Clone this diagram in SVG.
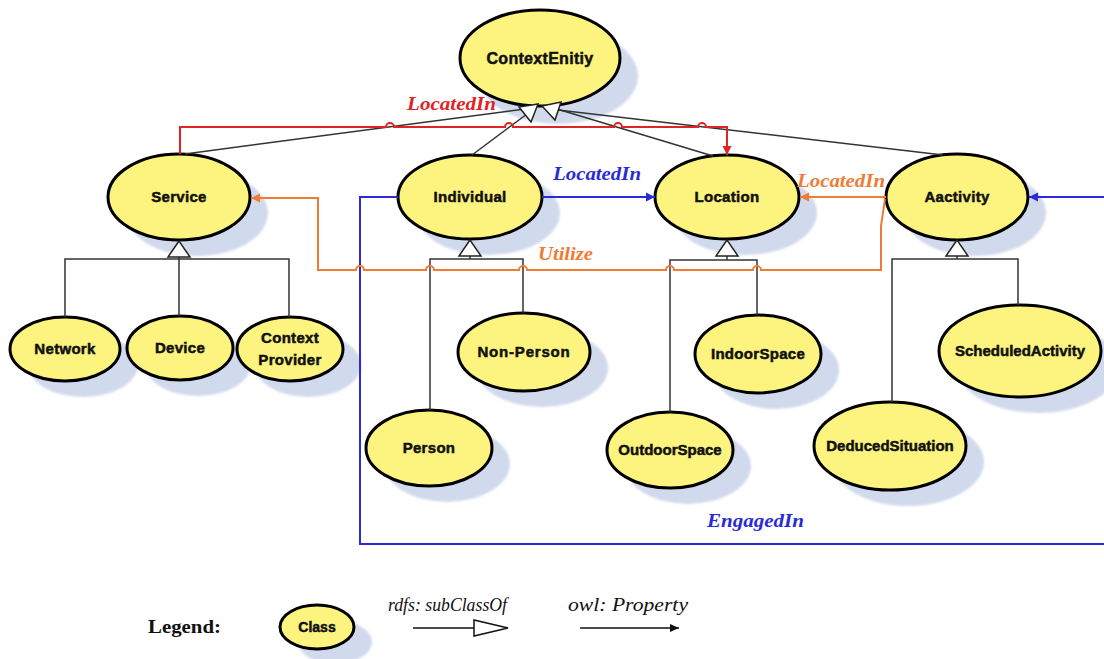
<svg xmlns="http://www.w3.org/2000/svg" width="1104" height="659" viewBox="0 0 1104 659">
  <style>
    .shadow { fill: #d1daed; filter: url(#soft); }
    .cls { fill: #fcf47e; stroke: #000; stroke-width: 3; }
    .lbl { font-family: "Liberation Sans", Arial, sans-serif; font-weight: bold; font-size: 15px; fill: #111; stroke: #111; stroke-width: 0.5; text-anchor: middle; letter-spacing: 0.3px; }
    .sub { fill: none; stroke: #333; stroke-width: 1.5; }
    .tri { fill: #fff; stroke: #222; stroke-width: 1.5; stroke-linejoin: miter; }
    .prop { font-family: "Liberation Serif", "Times New Roman", serif; font-style: italic; font-weight: bold; font-size: 18px; }
    .red { stroke: #e02424; fill: none; stroke-width: 2; }
    .blue { stroke: #2a2ad6; fill: none; stroke-width: 2; }
    .orange { stroke: #ef7c35; fill: none; stroke-width: 2; }
    .legend { font-family: "Liberation Serif", "Times New Roman", serif; font-size: 18px; fill: #111; }
  </style>
  <defs>
    <filter id="soft" x="-10%" y="-10%" width="120%" height="120%">
      <feGaussianBlur stdDeviation="1.2"/>
    </filter>
    <marker id="ah-red" markerUnits="userSpaceOnUse" markerWidth="10" markerHeight="10" refX="9" refY="5" orient="auto">
      <path d="M0,0.5 L9,5 L0,9.5 z" fill="#e02424"/>
    </marker>
    <marker id="ah-blue" markerUnits="userSpaceOnUse" markerWidth="10" markerHeight="10" refX="9" refY="5" orient="auto">
      <path d="M0,0.5 L9,5 L0,9.5 z" fill="#2a2ad6"/>
    </marker>
    <marker id="ah-orange" markerUnits="userSpaceOnUse" markerWidth="10" markerHeight="10" refX="9" refY="5" orient="auto">
      <path d="M0,0.5 L9,5 L0,9.5 z" fill="#ef7c35"/>
    </marker>
    <marker id="ah-black" markerUnits="userSpaceOnUse" markerWidth="10" markerHeight="10" refX="9" refY="5" orient="auto">
      <path d="M0,1 L9,5 L0,9 z" fill="#111"/>
    </marker>
  </defs>

  <rect width="1104" height="659" fill="#fff"/>

  <!-- class nodes -->
  <g id="node-contextentity">
    <ellipse class="shadow" cx="558" cy="76" rx="80" ry="48"/>
    <ellipse class="cls" cx="540" cy="58" rx="80" ry="48"/>
    <text class="lbl" x="540" y="64" style="font-size:16px">ContextEnitiy</text>
  </g>
  <g id="node-service">
    <ellipse class="shadow" cx="197" cy="213" rx="71" ry="43"/>
    <ellipse class="cls" cx="179" cy="197" rx="71" ry="43"/>
    <text class="lbl" x="179" y="202">Service</text>
  </g>
  <g id="node-individual">
    <ellipse class="shadow" cx="488" cy="213" rx="72" ry="42"/>
    <ellipse class="cls" cx="470" cy="197" rx="72" ry="42"/>
    <text class="lbl" x="470" y="202">Individual</text>
  </g>
  <g id="node-location">
    <ellipse class="shadow" cx="745" cy="213" rx="72" ry="42"/>
    <ellipse class="cls" cx="727" cy="197" rx="72" ry="42"/>
    <text class="lbl" x="727" y="202">Location</text>
  </g>
  <g id="node-activity">
    <ellipse class="shadow" cx="975" cy="213" rx="71" ry="43"/>
    <ellipse class="cls" cx="957" cy="197" rx="71" ry="43"/>
    <text class="lbl" x="957" y="202">Aactivity</text>
  </g>
  <g id="node-network">
    <ellipse class="shadow" cx="83" cy="365" rx="55" ry="32"/>
    <ellipse class="cls" cx="65" cy="349" rx="55" ry="32"/>
    <text class="lbl" x="65" y="354">Network</text>
  </g>
  <g id="node-device">
    <ellipse class="shadow" cx="198" cy="364" rx="53" ry="32"/>
    <ellipse class="cls" cx="180" cy="348" rx="53" ry="32"/>
    <text class="lbl" x="180" y="353">Device</text>
  </g>
  <g id="node-contextprovider">
    <ellipse class="shadow" cx="308" cy="365" rx="53" ry="32"/>
    <ellipse class="cls" cx="290" cy="349" rx="53" ry="32"/>
    <text class="lbl" x="290" y="343">Context</text>
    <text class="lbl" x="290" y="365">Provider</text>
  </g>
  <g id="node-nonperson">
    <ellipse class="shadow" cx="542" cy="368" rx="66" ry="39"/>
    <ellipse class="cls" cx="524" cy="352" rx="66" ry="39"/>
    <text class="lbl" x="524" y="357" style="letter-spacing:0.8px">Non-Person</text>
  </g>
  <g id="node-person">
    <ellipse class="shadow" cx="447" cy="464" rx="63" ry="38"/>
    <ellipse class="cls" cx="429" cy="448" rx="63" ry="38"/>
    <text class="lbl" x="429" y="453">Person</text>
  </g>
  <g id="node-indoorspace">
    <ellipse class="shadow" cx="776" cy="370" rx="63" ry="39"/>
    <ellipse class="cls" cx="758" cy="354" rx="63" ry="39"/>
    <text class="lbl" x="758" y="359">IndoorSpace</text>
  </g>
  <g id="node-outdoorspace">
    <ellipse class="shadow" cx="688" cy="466" rx="63" ry="38"/>
    <ellipse class="cls" cx="670" cy="450" rx="63" ry="38"/>
    <text class="lbl" x="670" y="455" style="letter-spacing:0px">OutdoorSpace</text>
  </g>
  <g id="node-deducedsituation">
    <ellipse class="shadow" cx="908" cy="462" rx="76" ry="44"/>
    <ellipse class="cls" cx="890" cy="446" rx="76" ry="44"/>
    <text class="lbl" x="890" y="451" style="letter-spacing:0px">DeducedSituation</text>
  </g>
  <g id="node-scheduledactivity">
    <ellipse class="shadow" cx="1038" cy="367" rx="81" ry="46"/>
    <ellipse class="cls" cx="1020" cy="351" rx="81" ry="46"/>
    <text class="lbl" x="1020" y="356" style="letter-spacing:0px">ScheduledActivity</text>
  </g>

  <!-- connectors -->
  <g id="connectors">
    <!-- subClassOf links to ContextEnitiy -->
    <path class="sub" d="M185,154 L525,109"/>
    <path class="sub" d="M472,155 L527,114"/>
    <path class="sub" d="M713,156 L557,109"/>
    <path class="sub" d="M943,155 L558,110"/>
    <polygon class="tri" points="519,107 531,122 538,104"/>
    <polygon class="tri" points="561,102 555,120 542,106"/>

    <!-- subClassOf trees -->
    <path class="sub" d="M179,257 V316 M65,317 V259 H289 V317"/>
    <polygon class="tri" points="179,241 168,257 190,257"/>

    <path class="sub" d="M470,256 V259 M430,410 V259 H523 V313"/>
    <polygon class="tri" points="470,240 459,256 481,256"/>

    <path class="sub" d="M727,256 V260 M670,412 V260 H757 V315"/>
    <polygon class="tri" points="727,240 716,256 738,256"/>

    <path class="sub" d="M957,256 V259 M892,402 V259 H1018 V305"/>
    <polygon class="tri" points="957,240 946,256 968,256"/>

    <!-- Service LocatedIn Location -->
    <path class="red" marker-end="url(#ah-red)" d="M180,154 V127 H386 a4,4 0 0 1 8,0 H505 a4,4 0 0 1 8,0 H614 a4,4 0 0 1 8,0 H698 a4,4 0 0 1 8,0 H727 V155"/>
    <text class="prop" x="407" y="110" fill="#e02424" textLength="89" lengthAdjust="spacingAndGlyphs">LocatedIn</text>

    <!-- Individual LocatedIn Location -->
    <path class="blue" marker-end="url(#ah-blue)" d="M542,197 H655"/>
    <text class="prop" x="553" y="180" fill="#2a2ad6" textLength="88" lengthAdjust="spacingAndGlyphs">LocatedIn</text>

    <!-- Individual EngagedIn Aactivity -->
    <path class="blue" marker-end="url(#ah-blue)" d="M398,197 H360 V544 H1120 V197 H1029"/>
    <text class="prop" x="707" y="527" fill="#2a2ad6" textLength="97" lengthAdjust="spacingAndGlyphs">EngagedIn</text>

    <!-- Aactivity LocatedIn Location -->
    <path class="orange" marker-end="url(#ah-orange)" d="M886,197 H800"/>
    <text class="prop" x="797" y="187" fill="#ef7c35" textLength="88" lengthAdjust="spacingAndGlyphs">LocatedIn</text>

    <!-- Aactivity Utilize Service -->
    <path class="orange" marker-end="url(#ah-orange)" d="M885,199 L881,226 V270 H761 a4,4 0 0 0 -8,0 H674 a4,4 0 0 0 -8,0 H527 a4,4 0 0 0 -8,0 H434 a4,4 0 0 0 -8,0 H364 a4,4 0 0 0 -8,0 H318 V198 H251"/>
    <text class="prop" x="538" y="260" fill="#ef7c35" textLength="55" lengthAdjust="spacingAndGlyphs">Utilize</text>
  </g>

  <!-- legend -->
  <g id="legend">
    <text class="legend" x="148" y="633" font-weight="bold" textLength="73" lengthAdjust="spacingAndGlyphs">Legend:</text>
    <g id="legend-class">
      <ellipse class="shadow" cx="335" cy="642" rx="37" ry="22"/>
      <ellipse class="cls" cx="317" cy="627" rx="37" ry="22"/>
      <text class="lbl" x="317" y="632" style="font-size:14px;letter-spacing:0px">Class</text>
    </g>
    <text class="legend" x="388" y="611" font-style="italic" textLength="119" lengthAdjust="spacingAndGlyphs">rdfs: subClassOf</text>
    <path d="M413,628 H474" stroke="#111" stroke-width="1.5" fill="none"/>
    <polygon class="tri" points="474,620 474,636 508,628" style="stroke:#111"/>
    <text class="legend" x="568" y="611" font-style="italic" textLength="120" lengthAdjust="spacingAndGlyphs">owl: Property</text>
    <path d="M580,628 H679" stroke="#111" stroke-width="1.5" fill="none" marker-end="url(#ah-black)"/>
  </g>
</svg>
